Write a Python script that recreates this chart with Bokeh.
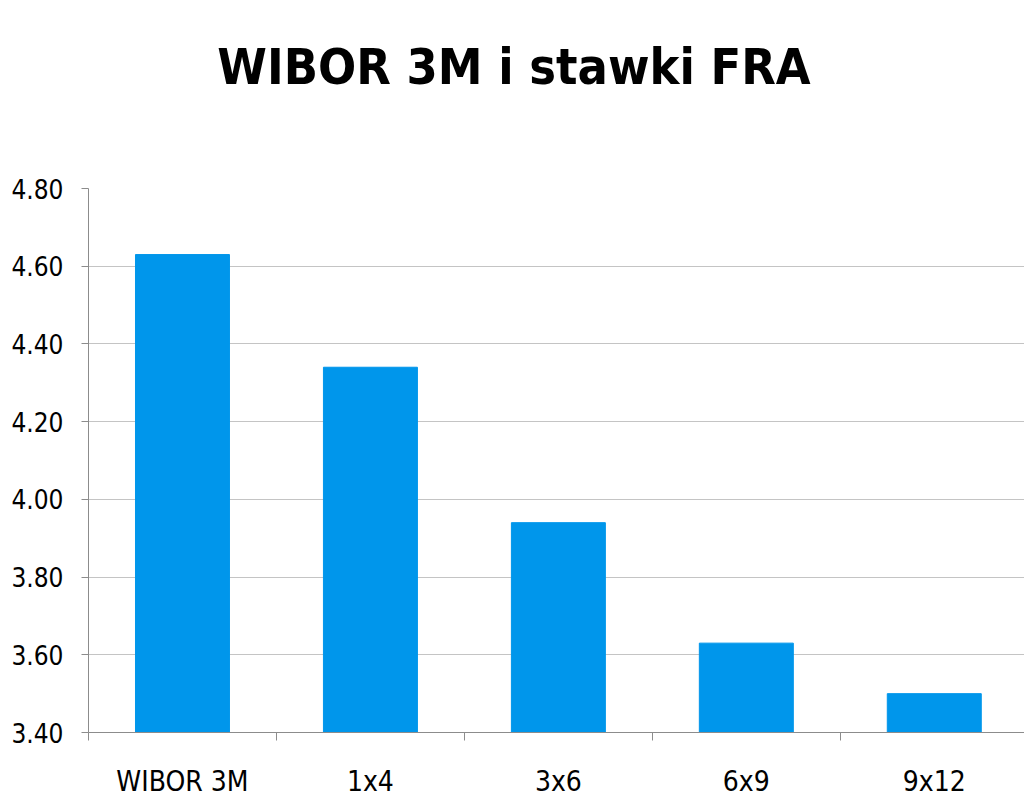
from bokeh.plotting import figure
from bokeh.models import FixedTicker, LinearAxis, Range1d, ColumnDataSource, Div
from bokeh.layouts import column
from bokeh.embed import file_html
from bokeh.resources import INLINE

categories = ["WIBOR 3M", "1x4", "3x6", "6x9", "9x12"]
values = [4.63, 4.34, 3.94, 3.63, 3.50]
y_ticks = [3.40, 3.60, 3.80, 4.00, 4.20, 4.40, 4.60, 4.80]
y_labels = ["3.40", "3.60", "3.80", "4.00", "4.20", "4.40", "4.60", "4.80"]
title_text = "WIBOR 3M i stawki FRA"

FONT = "DejaVu Sans Condensed"
BAR = "#0096EB"
AX = "#8C8C8C"
GRID = "#C4C4C4"

W = 1024
HEAD = 130
centers = [i + 0.5 for i in range(len(categories))]
bounds = list(range(len(categories) + 1))
src = ColumnDataSource(dict(x=centers, top=values))

head = Div(
    text=('<div style="width:%dpx;text-align:center;margin-top:33px;'
          'font-family:\'%s\',\'DejaVu Sans\',sans-serif;font-weight:bold;'
          'font-size:50px;line-height:58px;color:black;">%s</div>') % (W - 6, FONT, title_text),
    width=W, height=HEAD)

p = figure(width=W, height=791 - HEAD, output_backend="svg", toolbar_location=None,
           x_range=Range1d(0, 4.98), y_range=Range1d(y_ticks[0], y_ticks[-1]),
           x_axis_type=None, y_axis_location="left")
p.min_border_left = 88
p.min_border_right = 0
p.min_border_top = 48
p.min_border_bottom = 69
p.outline_line_color = None
p.background_fill_color = "white"
p.border_fill_color = "white"

p.vbar(x="x", top="top", bottom=y_ticks[0], width=0.5, color=BAR, source=src)

ya = p.yaxis[0]
ya.ticker = FixedTicker(ticks=y_ticks)
ya.major_label_overrides = {t: l for t, l in zip(y_ticks, y_labels)}
ya.major_label_text_font = FONT
ya.major_label_text_font_size = "26px"
ya.major_label_text_color = "black"
ya.axis_line_color = AX
ya.major_tick_line_color = AX
ya.major_tick_out = 7
ya.major_tick_in = 0
ya.minor_tick_line_color = None
ya.major_label_standoff = 18

p.ygrid.ticker = FixedTicker(ticks=y_ticks)
p.ygrid.grid_line_color = GRID
p.xgrid.grid_line_color = None

xa = LinearAxis(ticker=FixedTicker(ticks=centers, minor_ticks=bounds))
xa.major_label_overrides = {c: n for c, n in zip(centers, categories)}
xa.major_label_text_font = FONT
xa.major_label_text_font_size = "28px"
xa.major_label_text_color = "black"
xa.major_label_standoff = 24
xa.axis_line_color = AX
xa.major_tick_line_color = None
xa.major_tick_out = 0
xa.major_tick_in = 0
xa.minor_tick_line_color = AX
xa.minor_tick_out = 8
xa.minor_tick_in = 0
p.add_layout(xa, "below")

layout = column(head, p, spacing=0)
open("out.html", "w").write(file_html(layout, INLINE))
